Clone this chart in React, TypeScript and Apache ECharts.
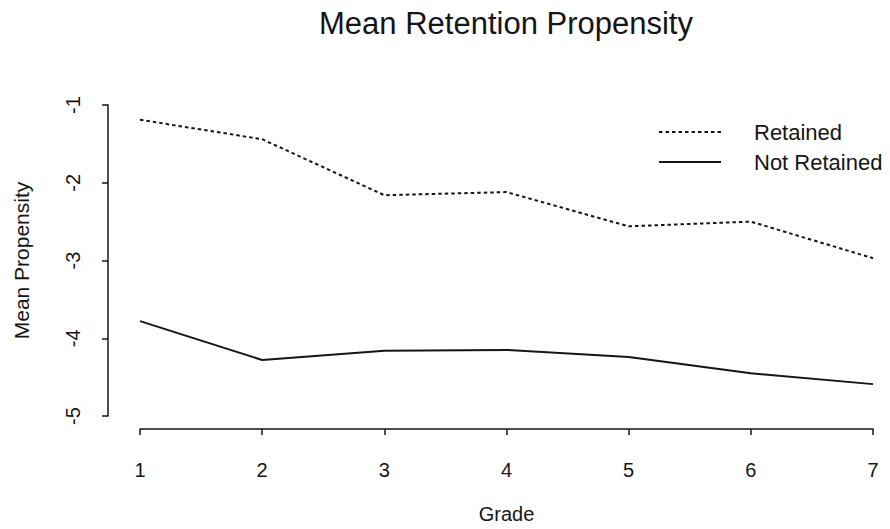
import React, { useEffect, useRef } from "react";
import * as echarts from "echarts";

const grades = ["1", "2", "3", "4", "5", "6", "7"];
const retained = [-1.19, -1.44, -2.16, -2.12, -2.56, -2.5, -2.97];
const notRetained = [-3.78, -4.28, -4.16, -4.15, -4.24, -4.45, -4.59];
const yTicks = { min: -5, max: -1, interval: 1 };

const FONT = "'Liberation Sans', Arial, Helvetica, sans-serif";
const INK = "#151515";

export default function App() {
  const ref = useRef<HTMLDivElement>(null);
  useEffect(() => {
    if (!ref.current) return;
    const chart = echarts.init(ref.current, undefined, { renderer: "svg" });
    chart.setOption({
      animation: false,
      backgroundColor: "#ffffff",
      textStyle: { fontFamily: FONT, color: INK },
      title: {
        text: "Mean Retention Propensity",
        left: 501,
        textAlign: "center",
        top: 3,
        textStyle: { fontFamily: FONT, fontSize: 31, fontWeight: "normal", color: INK },
      },
      legend: {
        orient: "vertical",
        left: 653,
        top: 116,
        itemWidth: 62,
        itemHeight: 14,
        itemGap: 8,
        data: ["Retained", "Not Retained"],
        itemStyle: { opacity: 0 },
        textStyle: {
          fontFamily: FONT,
          fontSize: 22,
          lineHeight: 22,
          color: INK,
          padding: [0, 0, 0, 28],
        },
      },
      grid: { left: 140, right: 17, top: 105, bottom: 529 - 418, containLabel: false },
      xAxis: {
        type: "category",
        data: grades,
        boundaryGap: false,
        offset: 13,
        name: "Grade",
        nameLocation: "middle",
        nameGap: 75,
        nameTextStyle: { fontFamily: FONT, fontSize: 20, color: INK },
        axisLine: { lineStyle: { color: INK, width: 1.5 } },
        axisTick: { show: true, length: 6, lineStyle: { color: INK, width: 1.5 }, alignWithLabel: true },
        axisLabel: { fontFamily: FONT, fontSize: 20, color: INK, margin: 31 },
        splitLine: { show: false },
      },
      yAxis: {
        type: "value",
        min: yTicks.min,
        max: yTicks.max,
        interval: yTicks.interval,
        offset: 32,
        name: "Mean Propensity",
        nameLocation: "middle",
        nameGap: 76,
        nameTextStyle: { fontFamily: FONT, fontSize: 21, color: INK },
        axisLine: { show: true, lineStyle: { color: INK, width: 1.5 } },
        axisTick: { show: true, length: 6, lineStyle: { color: INK, width: 1.5 } },
        axisLabel: { fontFamily: FONT, fontSize: 20, color: INK, margin: 25, rotate: 90 },
        splitLine: { show: false },
      },
      series: [
        {
          name: "Retained",
          type: "line",
          data: retained,
          symbol: "none",
          lineStyle: { color: INK, width: 2, type: [3.5, 3] },
          itemStyle: { color: INK },
        },
        {
          name: "Not Retained",
          type: "line",
          data: notRetained,
          symbol: "none",
          lineStyle: { color: INK, width: 2, type: "solid" },
          itemStyle: { color: INK },
        },
      ],
    });
    return () => chart.dispose();
  }, []);
  return <div ref={ref} style={{ width: 890, height: 529, position: "absolute", left: 0, top: 0 }} />;
}
